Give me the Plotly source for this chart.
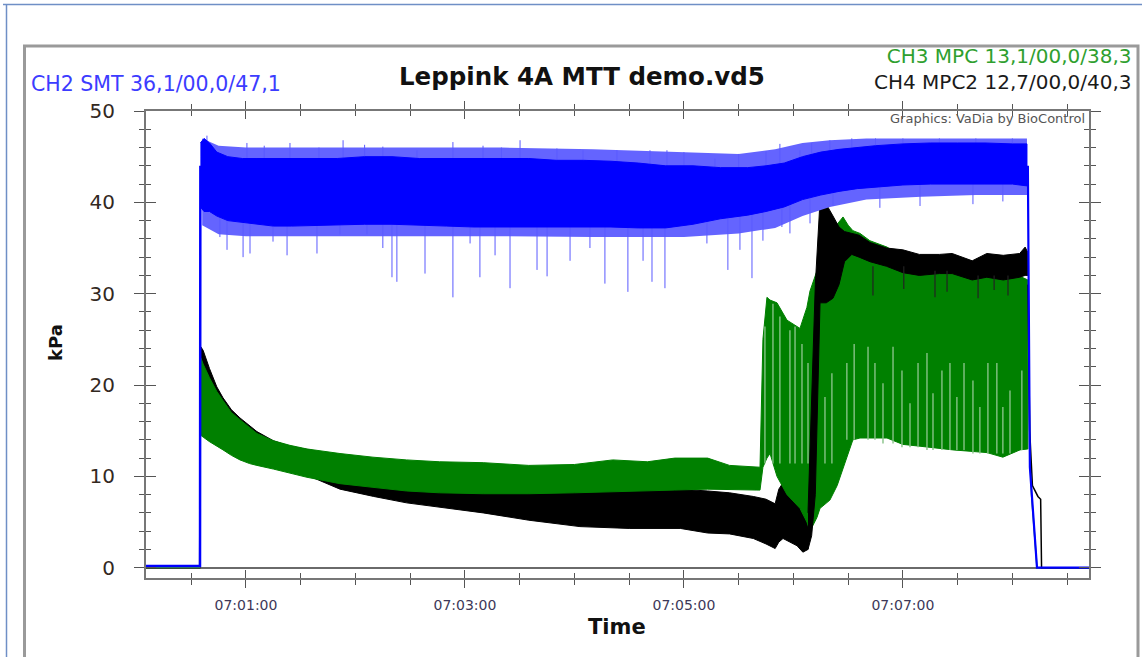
import pandas as pd
import plotly.graph_objects as go

# ---------------- data (seconds after 07:00:00, kPa) ----------------
# CH2 SMT (blue): dense core of the oscillation (upper / lower envelope)
ch2_t = [35, 37, 40, 44, 50, 58, 66, 75, 85, 95, 110, 125, 140, 155, 170, 185, 200, 215, 230, 245,
         260, 275, 290, 305, 320, 335, 345, 355, 365, 375, 385, 395, 405, 420, 435, 450, 465, 480, 488]
ch2_hi = [46.5, 47, 46.5, 45.5, 45, 44.8, 44.8, 44.8, 44.8, 44.8, 44.8, 45, 45, 44.8, 44.8, 44.8, 44.8, 44.8, 44.6, 44.6,
          44.5, 44.3, 44, 44, 43.8, 43.8, 44, 44.3, 45, 45.5, 45.8, 46, 46.2, 46.4, 46.5, 46.5, 46.5, 46.4, 46.4]
ch2_lo = [39.5, 39, 39, 38.5, 38, 37.8, 37.6, 37.4, 37.4, 37.4, 37.5, 37.6, 37.6, 37.5, 37.4, 37.3, 37.3, 37.3, 37.3, 37.3,
          37.3, 37.2, 37.2, 37.6, 38.2, 38.6, 39, 39.5, 40.3, 40.8, 41.2, 41.5, 41.7, 41.9, 42, 42, 42, 42, 41.8]
# CH2 fringe of frequent small swings around the core
ch2_fr_t = [36, 45, 60, 100, 150, 200, 250, 300, 330, 350, 365, 380, 400, 430, 460, 488]
ch2_fr_hi = [47, 46.2, 46, 46, 46, 46, 45.8, 45.5, 45.3, 45.8, 46.5, 46.8, 47, 47, 47, 47]
ch2_fr_lo = [37.5, 36.5, 36.3, 36.3, 36.3, 36.3, 36.2, 36.2, 36.6, 37.2, 38.5, 39.5, 40.3, 40.6, 40.8, 40.8]
# CH2 single spikes below / above the band: time, tip value, start value
ch2_dn_t = [45.7, 49.6, 58.4, 62.2, 74.8, 82.5, 98.9, 111.5, 126.3, 135, 140, 142.7, 158.1, 173.4, 182.8, 188.2,
            196.5, 204.7, 219.5, 225, 237.6, 248.5, 256.7, 269.3, 277.6, 282.5, 289.6, 312.6, 324.1, 330.7,
            337.3, 343.3, 353.7, 358.1, 369.1, 381.7, 407.4, 429.4, 458.4, 474.8]
ch2_dn_v = [36.2, 34.8, 34.0, 34.4, 35.7, 34.2, 34.4, 36.5, 36.5, 35, 31.8, 31.3, 32.2, 29.6, 35.5, 31.8,
            34.2, 30.6, 32.6, 31.9, 33.6, 35, 31.1, 30.2, 33.6, 31.3, 30.6, 35.5, 32.6, 34.8,
            31.7, 35.8, 37.3, 36.6, 37.7, 39.6, 39.4, 39.6, 39.8, 40.1]
ch2_dn_from = [40] * 32 + [42, 42, 42, 44, 44, 44, 45, 45]
ch2_up_t = [38.6, 60.5, 70, 84.1, 100, 113.2, 125, 135, 153.7, 173.4, 189.9, 200, 210.2, 230.4, 244.7, 263.3,
            281.4, 290.7, 300, 317, 330, 345, 352.6, 363.6, 370, 380, 392, 405, 420, 440, 460, 480]
ch2_up_v = [47.3, 46.5, 46.2, 46.5, 46, 46.8, 46.3, 46.1, 45.7, 46.6, 46.2, 46, 46.8, 45.9, 45.7, 45.7,
            45.7, 45.7, 45.5, 44.8, 45.3, 45.6, 46.4, 45.7, 46.5, 46.8, 47, 47, 47, 47, 47, 47]
ch2_up_from = [42] * 26 + [44.5] * 6
# CH2 baseline + rise, and fall + baseline
ch2_pre_t = [5.2, 34.8, 35.0]
ch2_pre_v = [0.2, 0.2, 44]
ch2_end_t = [488.5, 489.6, 493.5, 522]
ch2_end_v = [44, 11, 0, 0]

# CH3 MPC (green)
ch3_t = [35.2, 36.5, 40, 44, 47.4, 52, 56.7, 62, 66, 75, 84, 93.4, 111.5, 129.6, 148, 166, 190, 215, 240, 261,
         280, 295, 313, 325, 340, 341.7, 343.3, 345.5, 347.2, 351, 356.5, 363.6, 367.4, 369.1, 372.9, 374.6,
         380, 384, 387.2, 390, 392.6, 396.5, 401.9, 411.3, 420, 429.4, 447.4, 466.1, 474.8, 484.2, 488.5]
ch3_hi = [23, 22.3, 20.8, 19.3, 18.3, 17, 16.2, 15.3, 14.7, 13.9, 13.4, 13, 12.5, 12.1, 11.8, 11.6, 11.5, 11.2, 11.3, 11.8,
          11.6, 12, 12, 11.2, 11, 11, 25, 29.6, 29.3, 29, 27.1, 26.2, 28.5, 30.3, 32.5, 34,
          36, 37.6, 38.4, 37.5, 36.9, 36.6, 35.8, 35.1, 34, 33.6, 33, 32.2, 32.1, 31.9, 31.5]
ch3_lo = [14.5, 14.3, 13.8, 13.3, 12.9, 12.3, 11.8, 11.4, 11.2, 10.8, 10.4, 9.9, 9.2, 8.8, 8.4, 8.2, 8.1, 8.1, 8.2, 8.3,
          8.4, 8.5, 8.6, 8.6, 8.5, 8.5, 11, 12, 12.5, 10, 8, 6.5, 5, 4, 5.5, 6.5,
          7.4, 9, 11, 12.5, 14, 14.2, 14.2, 14.2, 13.5, 13.3, 12.9, 12.6, 12.1, 12.9, 13]
# light gaps (lower swings) inside the green band after the step: time, top, bottom
ch3_gap_t = [344.4, 348.8, 352.6, 358.1, 360.9, 364.7, 368, 377.3, 381.1, 389.3, 393.3, 400.9, 404.7, 409.1,
             414.6, 419.5, 423.9, 428.3, 433.2, 436.5, 441.4, 445.8, 449.6, 453.5, 458.4, 462.2, 466.6,
             471.5, 474.8, 478.7, 485.2]
ch3_gap_top = [26.4, 28.9, 27.5, 26, 26.4, 24.5, 22.4, 18.7, 21.3, 22.4, 24.5, 24.2, 22.4, 20.2,
               24.2, 21.6, 18, 22.4, 23.5, 19.1, 21.6, 22.4, 18.7, 22.4, 20.5, 17.6, 22.4,
               22.4, 17.6, 19.4, 21.6]
ch3_gap_bot = [11.4, 11.4, 11.4, 11.4, 11.4, 11.4, 11.4, 11.4, 11.4, 14, 14, 14, 14, 13.6,
               13.6, 13.2, 13.2, 13.2, 12.9, 12.9, 12.9, 12.9, 12.9, 12.9, 12.5, 12.5, 12.5,
               12.5, 12.5, 12.5, 12.9]
ch3_pre_t = [5.2, 34.6, 34.8, 35.2]
ch3_pre_v = [0, 0, 26, 20]
ch3_end_t = [488.5, 489.5, 490.5, 492.5, 493.5, 522]
ch3_end_v = [31, 13, 8, 3, 0, 0]

# CH4 MPC2 (black)
ch4_t = [35.2, 36.5, 40, 44, 47.4, 52, 56.7, 62, 66, 75, 84, 95, 111.5, 130, 148, 166, 190, 215, 243, 270,
         298, 313, 325, 338, 345, 350, 352, 354.3, 358, 362, 365.2, 368,
         370, 372, 374.6, 378, 381.7, 385, 388, 392, 396, 402, 411, 420, 429, 440, 447, 458, 466, 475, 484, 487, 488.5]
ch4_hi = [24.2, 23.8, 21.8, 19.8, 18.6, 17.3, 16.4, 15.5, 14.9, 13.9, 13.3, 12.9, 12.2, 11, 10.3, 9.8, 9.5, 9.2, 9, 8.8,
          8.6, 8.4, 8.2, 7.8, 7.5, 7, 8.6, 9.3, 8.6, 7.8, 7, 6,
          18, 31, 40.2, 39.8, 38.5, 37.3, 36.8, 36.6, 36.4, 35.6, 35, 34.8, 34.3, 34.3, 34.4, 33.6, 34.4, 34.2, 34.4, 35.1, 34.5]
ch4_lo = [16, 15.8, 15, 14.4, 14, 13.3, 12.8, 12.3, 12, 11.4, 10.8, 10, 8.6, 7.8, 7.1, 6.6, 6.0, 5.2, 4.5, 4.3,
          4.3, 3.8, 3.7, 3.2, 2.6, 2.1, 2.8, 3.2, 2.8, 2.4, 1.7, 2.0,
          3.5, 8, 29, 29, 29.5, 31, 33.5, 34.3, 34, 33.5, 33, 32.3, 32, 32.2, 32.2, 31.5, 31.8, 31.5, 31.8, 32, 32]
ch4_step_start = 368  # from here on CH4 lies over CH3
ch4_dn_t = [403.6, 420.5, 437.6, 444.2, 461.2, 470, 477.6]
ch4_dn_v = [29.8, 30.5, 29.6, 30.2, 29.5, 30.4, 29.8]
ch4_dn_from = [33, 33, 32.5, 32.5, 32, 32, 32]
ch4_pre_t = [5.2, 34.6, 35.0]
ch4_pre_v = [0, 0, 24.2]
ch4_end_t = [488.5, 489.5, 491, 494, 495.5, 496, 522]
ch4_end_v = [31, 15, 9, 7.8, 7.5, 0, 0]

x_range_s = [5.2, 522]
x_tick_s = [60, 180, 300, 420]
x_tick_text = ["07:01:00", "07:03:00", "07:05:00", "07:07:00"]
y_ticks = [0, 10, 20, 30, 40, 50]

# ---------------- helpers ----------------
T0 = pd.Timestamp("2024-01-01 07:00:00")


def ts(secs):
    return [None if s is None else T0 + pd.Timedelta(seconds=float(s)) for s in secs]


def band(t, hi, lo, color, lw=1):
    return go.Scatter(x=ts(list(t) + list(t[::-1])), y=list(hi) + list(lo[::-1]),
                      fill="toself", fillcolor=color, mode="lines",
                      line=dict(color=color, width=lw), hoverinfo="skip", showlegend=False)


def line(t, v, color, width=1.5):
    return go.Scatter(x=ts(t), y=v, mode="lines", line=dict(color=color, width=width),
                      hoverinfo="skip", showlegend=False)


def spikes(t, v, base, color, width=1):
    xs, ys = [], []
    for a, b, c in zip(t, v, base):
        xs += [a, a, None]
        ys += [c, b, None]
    return go.Scatter(x=ts(xs), y=ys, mode="lines", line=dict(color=color, width=width),
                      hoverinfo="skip", showlegend=False, connectgaps=False)


BLUE, GREEN, BLACK = "#0000ff", "#008000", "#000000"

k = next(i for i, s in enumerate(ch4_t) if s >= ch4_step_start)

fig = go.Figure()
# black (CH4), part lying under CH3
fig.add_trace(line(ch4_pre_t, ch4_pre_v, BLACK))
fig.add_trace(band(ch4_t[:k + 1], ch4_hi[:k + 1], ch4_lo[:k + 1], BLACK))
# green (CH3)
fig.add_trace(line(ch3_pre_t, ch3_pre_v, "#3a9a3a", 1.2))
fig.add_trace(band(ch3_t, ch3_hi, ch3_lo, GREEN))
fig.add_trace(spikes(ch3_gap_t, ch3_gap_top, ch3_gap_bot, "#86c286", 1.4))
fig.add_trace(line(ch3_end_t, ch3_end_v, "#3a9a3a", 1.5))
# black (CH4), part lying over CH3
fig.add_trace(band(ch4_t[k:], ch4_hi[k:], ch4_lo[k:], BLACK))
fig.add_trace(spikes(ch4_dn_t, ch4_dn_v, ch4_dn_from, "#222222", 1.2))
fig.add_trace(line(ch4_end_t, ch4_end_v, BLACK))
# blue (CH2)
fig.add_trace(band(ch2_fr_t, ch2_fr_hi, ch2_fr_lo, "#6464ff", 0))
fig.add_trace(spikes(ch2_dn_t, ch2_dn_v, ch2_dn_from, "#5a5aff"))
fig.add_trace(spikes(ch2_up_t, ch2_up_v, ch2_up_from, "#5a5aff"))
fig.add_trace(band(ch2_t, ch2_hi, ch2_lo, BLUE))
fig.add_trace(line(ch2_pre_t, ch2_pre_v, BLUE, 2.5))
fig.add_trace(line(ch2_end_t, ch2_end_v, BLUE, 2.2))
# overlay axes used only for the inward half of the crossing ticks
fig.add_trace(go.Scatter(x=[], y=[], xaxis="x2", yaxis="y2", showlegend=False, hoverinfo="skip"))

W, H = 1142, 657
L, R, TOP, BOT = 146, 1089, 111, 578


def px(x):
    return (x - L) / (R - L)


def py(y):
    return (BOT - y) / (BOT - TOP)


FONT = "DejaVu Sans"
AX = "#777777"
TK = "#555555"
xr = ts(x_range_s)
yr = [-1.127, 50]

common_x = dict(type="date", range=xr, showgrid=False, zeroline=False, showline=True,
                linecolor=AX, linewidth=2, mirror="ticks", tickcolor=TK, tickwidth=1.3)
common_y = dict(range=yr, showgrid=False, showline=True, linecolor=AX, linewidth=2,
                mirror="ticks", tickcolor=TK, tickwidth=1.3)

fig.update_layout(
    width=W, height=H, autosize=False,
    margin=dict(l=L, r=W - R, t=TOP, b=H - BOT, pad=0),
    paper_bgcolor="white", plot_bgcolor="white",
    showlegend=False,
    font=dict(family=FONT, color="#222"),
    xaxis=dict(**common_x, ticks="outside", ticklen=8, tickmode="array",
               tickvals=ts(x_tick_s), ticktext=x_tick_text,
               tickfont=dict(family=FONT, size=14, color="#3d3858"), ticklabelstandoff=5,
               minor=dict(tick0=ts([0])[0], dtick=30000, ticks="outside", ticklen=5,
                          tickcolor=TK, tickwidth=1.2)),
    yaxis=dict(**common_y, ticks="outside", ticklen=10, tickmode="array", tickvals=y_ticks,
               tickfont=dict(family=FONT, size=20, color="#33291f"), ticklabelstandoff=15,
               zeroline=True, zerolinecolor="#6a6a6a", zerolinewidth=1.5,
               minor=dict(dtick=2, ticks="outside", ticklen=5, tickcolor=TK, tickwidth=1.2)),
    xaxis2=dict(**common_x, overlaying="x", anchor="y2", side="bottom", ticks="inside", ticklen=8,
                tickmode="array", tickvals=ts(x_tick_s), showticklabels=False,
                minor=dict(tick0=ts([0])[0], dtick=30000, ticks="inside", ticklen=5,
                           tickcolor=TK, tickwidth=1.2)),
    yaxis2=dict(**common_y, overlaying="y", anchor="x2", side="left", ticks="inside", ticklen=10,
                tickmode="array", tickvals=y_ticks, showticklabels=False, zeroline=False,
                minor=dict(dtick=2, ticks="inside", ticklen=5, tickcolor=TK, tickwidth=1.2)),
)

ann = [
    dict(text="<b>Leppink 4A MTT demo.vd5</b>", x=px(582), y=py(77), xanchor="center", yanchor="middle",
         font=dict(family=FONT, size=24.5, color="#111")),
    dict(text="CH2 SMT 36,1/00,0/47,1", x=px(29), y=py(84), xanchor="left", yanchor="middle",
         font=dict(family=FONT, size=20.5, color="#3c3cff")),
    dict(text=("<span style='color:#2f9f2f'>CH3 MPC 13,1/00,0/38,3</span><br>"
               "<span style='color:#1a1a1a'>CH4 MPC2 12,7/00,0/40,3</span>"),
         x=px(1134), y=py(69), xanchor="right", yanchor="middle", align="right",
         font=dict(family=FONT, size=20, color="#1a1a1a")),
    dict(text="Graphics: VaDia by BioControl", x=px(1087), y=py(118), xanchor="right", yanchor="middle",
         font=dict(family=FONT, size=13, color="#555")),
    dict(text="<b>Time</b>", x=px(617), y=py(627), xanchor="center", yanchor="middle",
         font=dict(family=FONT, size=21, color="#111")),
    dict(text="<b>kPa</b>", x=px(55), y=py(343), xanchor="center", yanchor="middle", textangle=-90,
         font=dict(family=FONT, size=18, color="#111")),
]
for a in ann:
    a.update(xref="paper", yref="paper", showarrow=False)
fig.update_layout(annotations=ann)

shapes = [
    # outer light-blue page border (top and left)
    dict(type="line", x0=px(3), x1=px(1150), y0=py(4.5), y1=py(4.5), line=dict(color="#6f8fc6", width=1.5)),
    dict(type="line", x0=px(6.5), x1=px(6.5), y0=py(4.5), y1=py(670), line=dict(color="#6f8fc6", width=1.5)),
    # inner grey panel frame
    dict(type="rect", x0=px(24.5), x1=px(1138), y0=py(46), y1=py(680), line=dict(color="#9a9a9a", width=3)),
]
for s in shapes:
    s.update(xref="paper", yref="paper", layer="below")
fig.update_layout(shapes=shapes)

fig.write_html("out.html", config={"displayModeBar": False},
               post_script="document.body.style.margin='0';document.body.style.overflow='hidden';")
